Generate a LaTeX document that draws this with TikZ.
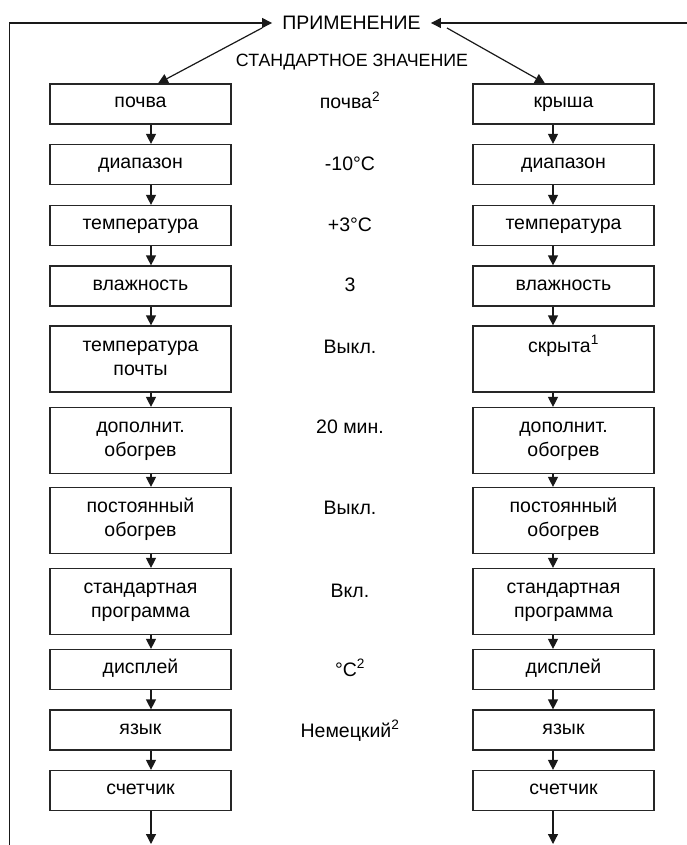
\documentclass[tikz,border=0pt]{standalone}
\usepackage{fontspec}
\setmainfont{Liberation Sans}
\usetikzlibrary{arrows.meta}
\newcommand\boxstrut{\rule[-6pt]{0pt}{20pt}}
\begin{document}
\begin{tikzpicture}[x=1pt,y=-1pt,
  every node/.style={font=\fontsize{19.5}{24}\selectfont, text=black},
  box/.style={draw=black!85, line width=1.2pt, minimum width=181pt, inner sep=0pt, align=center},
  sbox/.style={box, minimum height=40pt},
  dbox/.style={box, minimum height=66pt},
  lbl/.style={inner sep=0pt, text height=14pt, text depth=4pt},
  arr/.style={-{Triangle[length=10pt,width=10pt]}, line width=1.2pt, draw=black!90}
]
\useasboundingbox (0,0) rectangle (686,845);

% top
\node[inner xsep=10pt, inner ysep=0pt, text height=14pt, text depth=0pt] (app) at (351.5,23) {ПРИМЕНЕНИЕ};
\node[lbl, font=\fontsize{17.8}{22}\selectfont] (std) at (352,62) {СТАНДАРТНОЕ ЗНАЧЕНИЕ};

% left column
\node[sbox] (L1) at (140.5,104) {\boxstrut почва};
\node[sbox] (L2) at (140.5,164.5) {\boxstrut диапазон};
\node[sbox] (L3) at (140.5,225.5) {\boxstrut температура};
\node[sbox] (L4) at (140.5,286) {\boxstrut влажность};
\node[dbox] (L5) at (140.5,359) {\boxstrut температура\\\boxstrut почты};
\node[dbox] (L6) at (140.5,440.5) {\boxstrut дополнит.\\\boxstrut обогрев};
\node[dbox] (L7) at (140.5,520.5) {\boxstrut постоянный\\\boxstrut обогрев};
\node[dbox] (L8) at (140.5,601.5) {\boxstrut стандартная\\\boxstrut программа};
\node[sbox] (L9) at (140.5,669.5) {\boxstrut дисплей};
\node[sbox] (L10) at (140.5,730) {\boxstrut язык};
\node[sbox] (L11) at (140.5,790.5) {\boxstrut счетчик};

% right column
\node[sbox] (R1) at (563.5,104) {\boxstrut крыша};
\node[sbox] (R2) at (563.5,164.5) {\boxstrut диапазон};
\node[sbox] (R3) at (563.5,225.5) {\boxstrut температура};
\node[sbox] (R4) at (563.5,286) {\boxstrut влажность};
\node[dbox] (R5) at (563.5,359) {\boxstrut скрыта\textsuperscript{1}\\\boxstrut};
\node[dbox] (R6) at (563.5,440.5) {\boxstrut дополнит.\\\boxstrut обогрев};
\node[dbox] (R7) at (563.5,520.5) {\boxstrut постоянный\\\boxstrut обогрев};
\node[dbox] (R8) at (563.5,601.5) {\boxstrut стандартная\\\boxstrut программа};
\node[sbox] (R9) at (563.5,669.5) {\boxstrut дисплей};
\node[sbox] (R10) at (563.5,730) {\boxstrut язык};
\node[sbox] (R11) at (563.5,790.5) {\boxstrut счетчик};

% middle values
\node[lbl] (m1) at (350,104) {почва\textsuperscript{2}};
\node[lbl] (m2) at (350,166) {-10°C};
\node[lbl] (m3) at (350,226) {+3°C};
\node[lbl] (m4) at (350,286) {3};
\node[lbl] (m5) at (350,348) {Выкл.};
\node[lbl] (m6) at (350,428) {20 мин.};
\node[lbl] (m7) at (350,509) {Выкл.};
\node[lbl] (m8) at (350,592) {Вкл.};
\node[lbl] (m9) at (350,671) {°C\textsuperscript{2}};
\node[lbl] (m10) at (350,732) {Немецкий\textsuperscript{2}};

% connectors
\foreach \a/\b in {1/2,2/3,3/4,4/5,5/6,6/7,7/8,8/9,9/10,10/11}{
  \draw[arr] ([xshift=10.5pt]L\a.south) -- ([xshift=10.5pt]L\b.north);
  \draw[arr] ([xshift=-10.5pt]R\a.south) -- ([xshift=-10.5pt]R\b.north);
}
\coordinate (LB) at (151,844);
\coordinate (RB) at (553,844);
\draw[arr] ([xshift=10.5pt]L11.south) -- (LB);
\draw[arr] ([xshift=-10.5pt]R11.south) -- (RB);

\coordinate (loopB) at (9.5,846);
\coordinate (loopT) at (9.5,23);
\coordinate (loopR) at (687,23);
\draw[arr] (loopB) -- (loopT) -- (app.west);
\draw[arr] (loopR) -- (app.east);

\coordinate (dL) at (262,28);
\coordinate (dR) at (447,28);
\draw[arr] (dL) -- ([xshift=17.5pt]L1.north);
\draw[arr] (dR) -- ([xshift=-18.5pt]R1.north);
\end{tikzpicture}
\end{document}
